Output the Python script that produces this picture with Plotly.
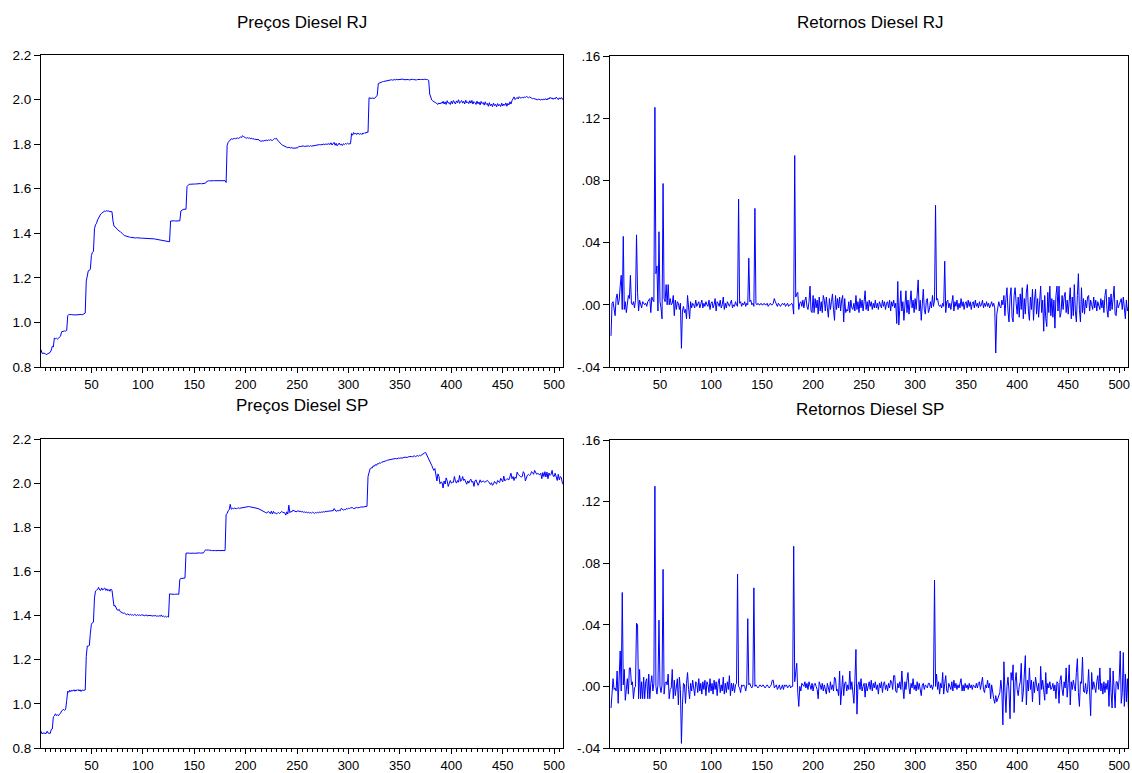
import plotly.graph_objects as go

# ---------------- data (values in thousandths) ----------------
# Preços Diesel RJ, obs 1..509
precos_rj = [
    878,861,862,863,861,855,858,864,864,866,
    876,893,890,930,927,929,925,928,934,938,
    958,960,961,962,961,964,1030,1036,1035,1036,
    1035,1034,1035,1035,1034,1034,1035,1034,1035,1036,
    1034,1037,1040,1042,1185,1205,1232,1233,1240,1300,
    1315,1318,1420,1438,1445,1460,1470,1482,1486,1490,
    1494,1496,1500,1498,1502,1499,1500,1497,1498,1497,
    1455,1432,1428,1425,1418,1412,1410,1408,1402,1398,
    1394,1390,1388,1386,1385,1384,1383,1382,1381,1381,
    1380,1380,1379,1380,1379,1378,1378,1379,1378,1378,
    1378,1377,1378,1377,1377,1378,1376,1377,1376,1376,
    1375,1374,1373,1373,1372,1371,1370,1369,1368,1367,
    1366,1365,1364,1363,1362,1362,1455,1456,1455,1456,
    1456,1455,1456,1457,1456,1456,1500,1505,1506,1508,
    1507,1508,1610,1618,1620,1620,1621,1620,1621,1621,
    1621,1622,1621,1622,1622,1623,1622,1623,1624,1624,
    1625,1632,1636,1636,1635,1636,1636,1637,1636,1636,
    1636,1637,1636,1636,1637,1636,1636,1637,1636,1636,
    1628,1795,1808,1815,1822,1824,1822,1825,1826,1824,
    1826,1828,1825,1830,1832,1829,1838,1834,1830,1828,
    1827,1829,1826,1828,1824,1827,1822,1825,1820,1823,
    1819,1822,1818,1815,1812,1816,1813,1817,1815,1818,
    1816,1819,1817,1820,1818,1816,1821,1825,1824,1826,
    1818,1812,1806,1802,1798,1795,1792,1790,1788,1786,
    1784,1786,1783,1782,1785,1781,1783,1781,1784,1782,
    1786,1790,1789,1791,1790,1792,1790,1791,1793,1791,
    1792,1790,1793,1791,1792,1794,1795,1793,1796,1797,
    1796,1798,1797,1799,1798,1800,1798,1801,1799,1800,
    1802,1798,1806,1796,1803,1808,1795,1804,1792,1799,
    1805,1796,1800,1794,1802,1798,1803,1800,1804,1801,
    1803,1802,1848,1840,1852,1845,1850,1843,1849,1846,
    1844,1848,1843,1850,1847,1852,1849,1855,1853,2008,
    2006,2005,2007,2006,2005,2008,2018,2020,2072,2075,
    2076,2078,2080,2081,2082,2083,2084,2086,2087,2088,
    2088,2089,2087,2089,2090,2088,2091,2089,2090,2088,
    2089,2090,2092,2089,2090,2091,2089,2090,2088,2090,
    2089,2091,2090,2089,2090,2088,2090,2091,2089,2090,
    2090,2089,2090,2091,2089,2090,2089,2086,2025,2004,
    1998,1994,1992,1990,1985,1982,1978,1985,1980,1987,
    1983,1992,1980,1990,1978,1995,1984,1986,1978,1993,
    1981,1996,1985,1980,1994,1986,1999,1983,1990,1996,
    1984,1992,1980,1997,1985,1990,1982,1995,1984,1996,
    1980,1991,1986,1978,1993,1981,1989,1976,1992,1982,
    1987,1975,1990,1978,1983,1970,1986,1972,1980,1968,
    1984,1973,1979,1967,1982,1972,1978,1969,1984,1971,
    1980,1974,1985,1970,1983,1976,1990,1980,1995,2002,
    2012,2000,2006,2010,2003,2013,2008,2006,2011,2007,
    2012,2009,2014,2010,2008,2012,2009,2006,2004,2005,
    2003,2001,2000,1999,2002,2000,1998,2001,1999,2002,
    2000,2004,1998,2006,2002,2010,2004,2008,2001,2007,
    2003,2011,2005,2000,2008,2002,2009,2004,1998,
]

# Retornos Diesel RJ, obs 1..509 (obs 1 missing)
retornos_rj = [
    None,-20,1,2,-3,-7,4,7,0,3,
    12,19,-3,44,-3,2,-5,3,6,4,
    19,1,0,2,-2,3,45,8,-4,3,
    0,-2,2,1,0,1,-1,2,3,4,
    -5,5,3,2,127,20,25,-4,47,2,
    -2,-9,78,4,2,13,0,13,0,4,
    0,1,6,-7,3,-3,2,1,-3,1,
    -28,-4,-1,-5,-3,-9,6,-3,-9,2,
    -2,1,0,-2,3,-1,1,2,-2,0,
    3,-2,1,-1,2,0,-1,3,-3,1,
    2,-2,0,4,-4,2,1,-1,3,-2,
    0,5,-3,1,-2,2,0,-1,1,3,
    -2,0,-1,2,0,-1,68,1,2,-1,
    1,0,2,-1,1,0,30,2,3,0,
    1,-1,62,1,0,1,0,0,1,0,
    0,1,0,0,1,-1,0,1,0,0,
    1,4,2,0,-1,1,0,-1,0,1,
    0,1,-1,0,1,-1,0,0,1,0,
    -6,96,5,7,8,-3,1,2,-1,3,
    -2,3,5,-1,-3,2,12,-4,-5,6,
    -5,4,-2,3,-6,5,-4,2,-5,6,
    3,-4,5,-2,-8,4,-3,2,7,-3,
    -10,6,-3,4,-2,5,-4,3,6,-11,
    4,-5,-3,-4,2,-5,3,-2,-3,1,
    -4,6,-3,2,-5,4,-2,3,-4,2,
    9,-3,2,-4,3,-1,2,-3,1,-2,
    3,-2,1,-3,2,0,-2,3,-1,2,
    -3,1,2,-2,3,-4,2,-1,3,-2,
    1,-12,15,-13,3,9,-4,2,-10,4,
    9,-5,3,-6,4,9,-2,3,-5,4,
    -3,5,16,-4,3,-10,5,10,-3,-6,
    3,4,-5,-3,2,-2,6,-1,3,64,
    3,4,0,-1,0,-2,1,-1,28,-5,
    2,3,-2,1,-3,2,6,-4,2,-1,
    3,-3,1,-2,4,-1,2,-3,1,2,
    -2,3,-1,2,-3,1,2,-2,3,-1,
    1,-2,2,-1,0,3,-2,1,-1,2,
    -1,1,-2,0,2,-1,1,-2,-31,-6,
    -3,2,-1,-2,3,0,6,-7,4,11,
    -4,-11,5,11,-8,-11,6,11,1,-6,
    5,-8,7,-3,11,-9,4,-6,8,13,
    -4,-10,5,-3,10,-10,3,10,-6,4,
    -8,7,12,-5,3,-17,6,-9,-14,8,
    -5,12,-7,4,-8,3,-15,6,12,-4,
    12,-8,-5,6,-3,5,8,-5,3,-6,
    3,11,-9,5,-7,13,-4,-11,6,20,
    -3,-11,11,-5,4,-6,3,-2,5,6,
    -4,3,0,-3,5,-2,3,-4,2,0,
    -3,4,-2,3,-5,6,10,-3,-8,5,
    -4,7,-3,4,12,-6,-7,3,-2,0,
    2,4,-3,5,-2,-9,3,-4,-1,
]

# Preços Diesel SP, obs 1..509
precos_sp = [
    876,864,868,867,867,866,876,867,867,866,
    884,886,941,945,955,947,951,946,954,957,
    968,972,975,970,976,1016,1058,1052,1062,1055,
    1062,1058,1064,1057,1063,1060,1065,1058,1064,1056,
    1063,1061,1062,1063,1215,1262,1262,1264,1320,1360,
    1368,1370,1480,1511,1515,1518,1528,1516,1514,1525,
    1516,1520,1525,1514,1521,1512,1518,1510,1520,1515,
    1460,1443,1446,1430,1426,1424,1428,1418,1416,1414,
    1410,1412,1406,1404,1407,1405,1403,1406,1402,1404,
    1401,1405,1402,1400,1404,1401,1403,1400,1404,1401,
    1402,1399,1403,1400,1398,1402,1399,1401,1397,1400,
    1398,1401,1397,1399,1396,1400,1396,1403,1395,1398,
    1394,1397,1393,1396,1393,1498,1497,1496,1498,1497,
    1496,1497,1498,1497,1496,1565,1568,1569,1570,1569,
    1570,1683,1684,1682,1683,1682,1683,1684,1683,1682,
    1683,1684,1683,1684,1684,1683,1684,1685,1684,1691,
    1698,1697,1698,1697,1696,1697,1695,1694,1696,1695,
    1694,1695,1696,1695,1694,1695,1696,1695,1694,1695,
    1858,1862,1875,1879,1904,1882,1886,1884,1887,1885,
    1884,1886,1888,1886,1887,1889,1888,1890,1891,1892,
    1893,1892,1894,1893,1892,1894,1893,1892,1890,1889,
    1887,1885,1883,1881,1879,1877,1875,1872,1868,1865,
    1866,1872,1869,1862,1873,1860,1872,1864,1866,1860,
    1864,1867,1862,1866,1872,1868,1865,1866,1855,1870,
    1860,1900,1866,1872,1870,1878,1875,1873,1870,1872,
    1875,1871,1874,1869,1872,1868,1870,1867,1869,1866,
    1868,1865,1867,1864,1868,1866,1863,1867,1865,1868,
    1866,1869,1867,1870,1868,1871,1869,1873,1870,1874,
    1872,1875,1873,1876,1874,1885,1878,1872,1876,1874,
    1877,1875,1886,1880,1878,1881,1879,1885,1883,1886,
    1885,1888,1887,1889,1884,1887,1889,1890,1888,1891,
    1890,1892,1891,1893,1892,1894,1893,1895,2030,2050,
    2065,2070,2068,2078,2076,2084,2080,2088,2086,2092,
    2090,2094,2095,2097,2099,2100,2102,2104,2105,2107,
    2106,2108,2110,2109,2111,2112,2110,2113,2114,2112,
    2115,2113,2116,2115,2118,2117,2116,2119,2120,2118,
    2121,2119,2122,2124,2120,2123,2125,2122,2126,2124,
    2128,2131,2135,2137,2139,2130,2118,2106,2098,2090,
    2080,2068,2058,2066,2040,2010,2042,2030,1997,2005,
    2003,1978,2010,1996,2024,2010,1985,2003,2012,2000,
    2004,2003,2030,2010,2000,2012,2004,2035,2008,2012,
    2030,2012,2018,2005,1995,2010,2000,2012,2018,2004,
    2008,1985,2010,2015,2003,1990,2000,2015,2004,2008,
    2010,2006,2004,2010,2012,2008,2000,1994,2002,1990,
    1996,2008,2000,1996,2012,2005,2003,2022,2010,2006,
    2032,2010,2015,2020,2018,2015,2030,2045,2020,2030,
    2012,2028,2022,2050,2040,2032,2030,2028,2030,2052,
    2044,2010,2030,2036,2040,2035,2038,2052,2048,2040,
    2058,2045,2040,2044,2042,2038,2045,2020,2048,2030,
    2052,2028,2050,2020,2046,2035,2040,2058,2032,2030,
    2045,2030,2012,2040,2015,2030,2025,2000,1993,
]

# Retornos Diesel SP, obs 1..509 (obs 1 missing)
retornos_sp = [
    None,-14,1,5,-2,-1,-3,10,-11,2,
    23,-3,61,1,11,-9,2,5,-5,12,
    12,1,3,-8,-1,0,41,40,-8,11,
    -8,3,-8,6,-8,3,5,-8,8,-8,
    2,7,-3,2,130,0,-5,1,43,0,
    -4,1,76,-5,2,3,1,8,-8,-2,
    -1,11,-8,4,-6,2,5,-12,6,-2,
    -37,-12,2,1,-11,2,9,-2,-8,2,
    -3,4,-1,-6,3,2,-4,5,-3,2,
    -5,3,-2,4,-6,3,1,-4,5,-3,
    2,-5,4,-2,3,-6,2,5,-4,1,
    -3,6,-5,2,-4,3,-2,7,-6,2,
    -3,2,-4,1,2,73,0,-1,-4,1,
    0,1,0,-3,1,44,1,2,0,-1,
    1,64,0,1,0,-1,0,1,0,0,
    1,0,-1,0,1,0,-1,0,1,4,
    4,-1,0,1,-2,0,1,-2,-1,1,
    -2,1,0,1,-1,0,1,-1,0,0,
    91,3,8,15,-4,-13,0,-3,2,1,
    0,3,-1,2,-2,3,1,-2,2,-3,
    1,2,0,-2,-8,3,1,-2,2,-3,
    1,-2,-5,2,-1,-4,3,-2,1,-3,
    6,5,-3,-2,-6,10,-12,-2,7,-6,
    2,3,-3,1,-2,10,-2,3,-5,-11,
    4,24,-18,1,3,-2,5,-3,0,2,
    -7,2,-3,0,3,-2,4,-3,2,-1,
    3,-2,1,-5,2,-1,3,-4,2,3,
    -2,1,-3,2,-1,4,3,-2,7,7,
    -3,-4,2,-1,3,-2,10,-1,-8,3,
    -2,4,9,-1,-5,2,-1,5,-2,1,
    -3,3,-2,2,-1,-6,1,2,-2,1,
    0,-1,2,2,-1,1,-2,1,69,0,
    8,-2,3,-5,2,-1,9,-5,2,7,
    -3,-4,2,0,-2,3,-3,4,-1,2,
    -2,1,-1,2,5,-3,1,-3,2,-1,
    1,-2,2,-1,1,-2,1,0,-1,2,
    -1,2,3,-2,1,6,-2,-4,1,-1,
    4,-1,2,-8,1,-6,-8,-11,-6,-10,
    -8,-5,-4,4,-3,-25,16,-3,-17,0,
    6,-3,-21,9,4,14,-17,3,9,-2,
    -6,0,3,15,-10,-4,5,20,-12,4,
    -3,12,-2,4,-10,3,-4,6,1,-3,
    2,-12,13,-2,4,-3,-9,9,-5,2,
    -1,3,-2,-1,2,-3,1,-8,3,2,
    -11,4,7,-2,-6,3,-1,12,-7,2,
    14,-12,3,-2,4,0,-3,9,18,-4,
    -13,3,2,19,-3,-4,2,-5,-2,11,
    -3,-19,9,-2,3,0,-4,3,7,-2,
    12,-3,2,-5,3,-4,2,-2,4,-13,
    12,-4,-14,10,-3,-14,3,3,-2,5,
    23,-11,-4,22,-13,8,-10,5,-14,
]

titulos = ["Preços Diesel RJ", "Retornos Diesel RJ", "Preços Diesel SP", "Retornos Diesel SP"]
xticks = [50, 100, 150, 200, 250, 300, 350, 400, 450, 500]
yticks_precos = [0.8, 1.0, 1.2, 1.4, 1.6, 1.8, 2.0, 2.2]
yticks_ret = [-0.04, 0.0, 0.04, 0.08, 0.12, 0.16]
yticktext_ret = ["-.04", ".00", ".04", ".08", ".12", ".16"]

lens = [len(precos_rj), len(retornos_rj), len(precos_sp), len(retornos_sp)]
if len(set(lens)) != 1:
    raise SystemExit("length mismatch: %s" % lens)

def scale(vals):
    return [None if v is None else v / 1000.0 for v in vals]

series = [scale(precos_rj), scale(retornos_rj), scale(precos_sp), scale(retornos_sp)]
obs = list(range(1, lens[0] + 1))

W, H = 1132, 773
FONT = "Liberation Sans, Arial, Helvetica, sans-serif"

# panel pixel boxes: (left, right, top, bottom)
boxes = [(41, 563, 55, 367), (610, 1128, 56, 367), (41, 563, 439, 748), (610, 1128, 440, 748)]

fig = go.Figure()
for k in range(4):
    ax = "" if k == 0 else str(k + 1)
    fig.add_trace(go.Scatter(x=obs, y=series[k], mode="lines",
                             line=dict(color="#0000ff", width=1),
                             xaxis="x" + ax, yaxis="y" + ax,
                             connectgaps=False, showlegend=False,
                             hoverinfo="skip"))
    l, r, t, b = boxes[k]
    xa = dict(domain=[l / W, r / W], range=[1, 508.6], anchor="y" + ax,
              automargin=False,
              tickmode="array", tickvals=xticks, ticks="outside", ticklen=5,
              tickcolor="black", tickwidth=1,
              minor=dict(dtick=5, tick0=0, ticks="outside", ticklen=3,
                         tickcolor="black", tickwidth=1),
              showline=True, linecolor="black", linewidth=1, mirror=True,
              showgrid=False, zeroline=False,
              tickfont=dict(family=FONT, size=13, color="black"))
    if k in (0, 2):
        ya = dict(range=[0.8, 2.2], tickmode="array", tickvals=yticks_precos,
                  ticktext=["%.1f" % v for v in yticks_precos])
    else:
        ya = dict(range=[-0.04, 0.16], tickmode="array", tickvals=yticks_ret,
                  ticktext=yticktext_ret)
    ya.update(domain=[1 - b / H, 1 - t / H], anchor="x" + ax, automargin=False,
              ticks="outside", ticklen=6, tickcolor="black", tickwidth=1,
              showline=True, linecolor="black", linewidth=1, mirror=True,
              showgrid=False, zeroline=False,
              tickfont=dict(family=FONT, size=13.5, color="black"))
    fig.update_layout(**{"xaxis" + ax: xa, "yaxis" + ax: ya})

title_pos = [(302, 22), (870, 22), (302, 405), (870, 409)]
for k in range(4):
    cx, cy = title_pos[k]
    fig.add_annotation(text=titulos[k], x=cx / W, y=1 - cy / H, xref="paper", yref="paper",
                       xanchor="center", yanchor="middle", showarrow=False,
                       font=dict(family=FONT, size=17, color="black"))

fig.update_layout(width=W, height=H, margin=dict(l=0, r=0, t=0, b=0, pad=0, autoexpand=False),
                  paper_bgcolor="white", plot_bgcolor="white", showlegend=False)

fig.write_html("out.html", config={"displayModeBar": False},
               post_script="document.body.style.margin='0';document.body.style.padding='0';document.body.style.overflow='hidden';")
